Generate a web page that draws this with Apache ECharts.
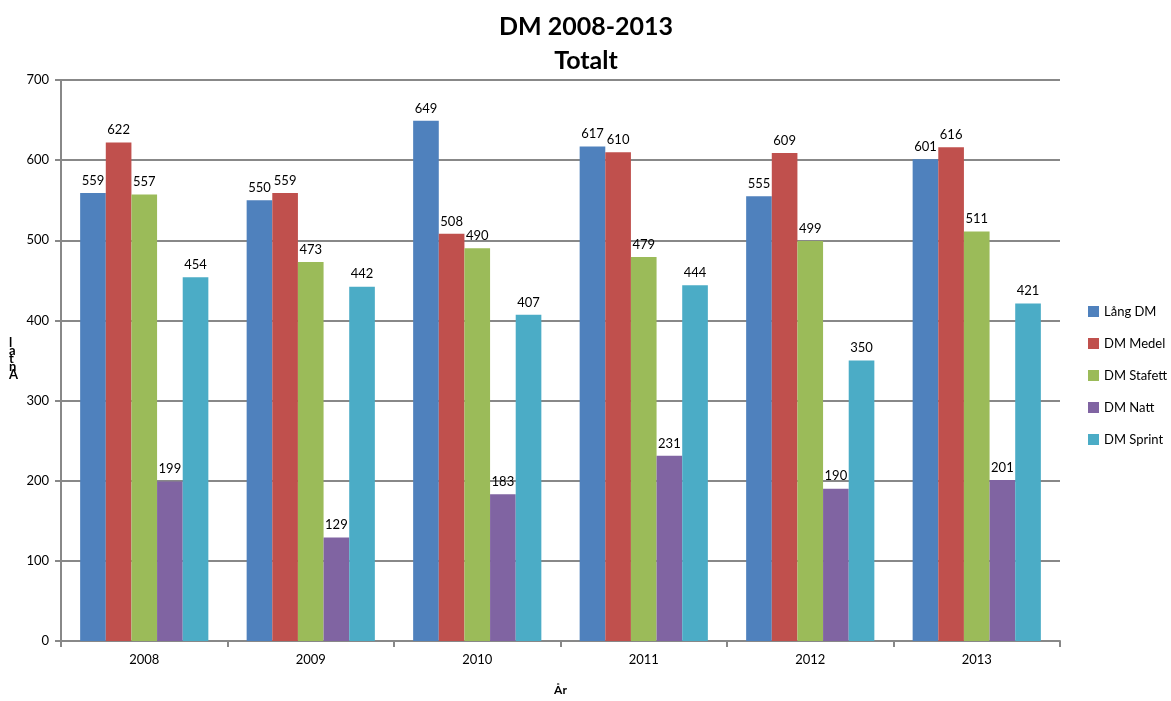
<!DOCTYPE html>
<html><head><meta charset="utf-8">
<script src="https://cdn.jsdelivr.net/npm/echarts@6/dist/echarts.min.js"></script>
<style>html,body{margin:0;padding:0;background:#fff}#c{width:1171px;height:701px}</style>
</head><body><div id="c"></div>
<script>
const categories = ['2008','2009','2010','2011','2012','2013'];
const seriesNames = ['Lång DM','DM Medel','DM Stafett','DM Natt','DM Sprint'];
const langDM = [559,550,649,617,555,601];
const dmMedel = [622,559,508,610,609,616];
const dmStafett = [557,473,490,479,499,511];
const dmNatt = [199,129,183,231,190,201];
const dmSprint = [454,442,407,444,350,421];
const colors = ['#4F81BD','#C0504D','#9BBB59','#8064A2','#4BACC6'];
const values = [langDM, dmMedel, dmStafett, dmNatt, dmSprint];
const F = 'Lato, "Open Sans", sans-serif';
const chart = echarts.init(document.getElementById('c'));
chart.setOption({
  animation:false,
  title:{text:'DM 2008-2013\nTotalt',left:581,top:5,textAlign:'center',
    textStyle:{fontFamily:F,fontWeight:'bold',fontSize:25,lineHeight:34,color:'#000'}},
  legend:{orient:'vertical',left:1083,top:300,itemWidth:11,itemHeight:11,itemGap:19,
    icon:'rect',textStyle:{fontFamily:F,fontSize:13,color:'#000'},data:seriesNames},
  grid:{left:61,right:111,top:80,bottom:57},
  xAxis:{type:'category',data:categories,
    axisLine:{lineStyle:{color:'#888',width:2}},
    axisTick:{show:true,inside:false,length:6,lineStyle:{color:'#888',width:2}},
    axisLabel:{fontFamily:F,fontSize:13,color:'#000',margin:12},
    name:'År',nameLocation:'middle',nameGap:43,
    nameTextStyle:{fontFamily:F,fontWeight:'bold',fontSize:12,color:'#000'}},
  yAxis:{type:'value',min:0,max:700,interval:100,
    axisLine:{show:true,lineStyle:{color:'#888',width:2}},
    axisTick:{show:true,length:6,lineStyle:{color:'#888',width:2}},
    axisLabel:{fontFamily:F,fontSize:13,color:'#000',margin:12},
    splitLine:{lineStyle:{color:'#888',width:2}}},
  graphic:[{type:'text',left:9,top:336,style:{text:'l\na\nt\nn\nA',fontFamily:F,fontWeight:'bold',fontSize:13,lineHeight:8,fill:'#000'}}],
  series: seriesNames.map((n,i)=>({
    name:n,type:'bar',data:values[i],barGap:'0%',barCategoryGap:'23%',
    itemStyle:{color:colors[i]},
    label:{show:true,position:'top',distance:6,fontFamily:F,fontSize:13,color:'#000'}
  }))
});
</script></body></html>
